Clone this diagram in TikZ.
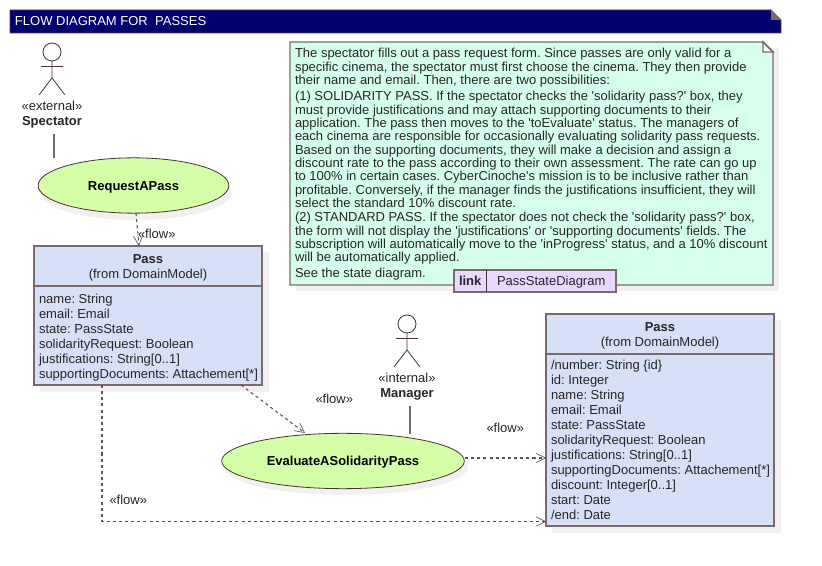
\documentclass[tikz,border=0pt]{standalone}
\usepackage{fontspec}
\setmainfont{Liberation Sans}
\newfontfamily\plainfam{Liberation Sans}
\usetikzlibrary{arrows.meta,calc,shapes.geometric}
\definecolor{edgec}{HTML}{7A6A6E}
\definecolor{linec}{HTML}{4A3236}
\definecolor{navy}{HTML}{000070}
\definecolor{notefill}{HTML}{D5FFEC}
\definecolor{classfill}{HTML}{D8E0F8}
\definecolor{ucfill}{HTML}{D4FFA8}
\definecolor{linkfill}{HTML}{E8D8FF}
\definecolor{shadowc}{HTML}{F1F1F1}
\newcommand{\fs}{\plainfam\fontsize{9.75pt}{9.75pt}\selectfont\frenchspacing}
\newcommand{\fa}{\plainfam\fontsize{9.75pt}{11.25pt}\selectfont\frenchspacing}
\newenvironment{tl}{\begin{tabular}[t]{@{}l@{}}}{\end{tabular}}
\tikzset{
  x=0.75pt,y=-0.75pt,
  txt/.style={inner sep=0pt,outer sep=0pt,font=\fs,text=black!85},
  para/.style={txt,anchor=base west},
  attrs/.style={inner sep=0pt,outer sep=0pt,font=\fa,text=black!85,anchor=base west},
  boxline/.style={draw=edgec,line width=1.1pt},
  thin line/.style={draw=linec,line width=0.6pt},
  flow/.style={draw=linec!85!white,line width=0.8pt,dash pattern=on 2.3pt off 2.3pt,-{Straight Barb[length=7pt,width=7pt,line width=0.5pt]}},
  usecase/.style={ellipse,draw=linec,line width=0.6pt,fill=ucfill,inner sep=0pt,text height=7pt,text depth=0pt},
  flowlabel/.style={txt},
}
\begin{document}
\begin{tikzpicture}
\useasboundingbox (0,0) rectangle (822,566);
\fill[white] (0,0) rectangle (822,566);

% title
\fill[navy,draw=edgec!60!navy,line width=0.6pt] (10,10) -- (771,10) -- (781,20) -- (781,33) -- (10,33) -- cycle;
\fill[edgec] (771,10) -- (771,20) -- (781,20) -- cycle;
\node[para,text=white] (title) at (15,26) {FLOW DIAGRAM FOR\ \ PASSES};

% note
\fill[shadowc] (296,48) rectangle (779,291);
\path[fill=notefill,boxline] (290,42) -- (763,42) -- (773,52) -- (773,285) -- (290,285) -- cycle;
\draw[boxline,fill=white] (763,42) -- (763,52) -- (773,52) -- cycle;
\node[para] (p1) at (295,58) {\begin{tl}The spectator fills out a pass request form. Since passes are only valid for a\\specific cinema, the spectator must first choose the cinema. They then provide\\their name and email. Then, there are two possibilities:\end{tl}};
\node[para] (p2) at (295,101) {\begin{tl}(1) SOLIDARITY PASS. If the spectator checks the 'solidarity pass?' box, they\\must provide justifications and may attach supporting documents to their\\application. The pass then moves to the 'toEvaluate' status. The managers of\\each cinema are responsible for occasionally evaluating solidarity pass requests.\\Based on the supporting documents, they will make a decision and assign a\\discount rate to the pass according to their own assessment. The rate can go up\\to 100\% in certain cases. CyberCinoche's mission is to be inclusive rather than\\profitable. Conversely, if the manager finds the justifications insufficient, they will\\select the standard 10\% discount rate.\end{tl}};
\node[para] (p3) at (295,222) {\begin{tl}(2) STANDARD PASS. If the spectator does not check the 'solidarity pass?' box,\\the form will not display the 'justifications' or 'supporting documents' fields. The\\subscription will automatically move to the 'inProgress' status, and a 10\% discount\\will be automatically applied.\end{tl}};
\node[para] (p4) at (295,278) {See the state diagram.};

% link
\path[fill=linkfill,boxline] (454,270) rectangle (616,292);
\draw[linec,line width=0.6pt] (486.5,270) -- (486.5,292);
\node[para,font=\fs\bfseries] (linkk) at (459,286) {link};
\node[para] (linkv) at (497,286) {PassStateDiagram};

% actors
\draw[thin line] (52,52) circle (9);
\draw[thin line] (52,61) -- (52,78) (41,66.5) -- (63,66.5) (39,95) -- (52,78) -- (65,95);
\node[txt,anchor=base] (spst) at (52,111) {«external»};
\node[txt,anchor=base,font=\fs\bfseries] (spectator) at (52,126) {Spectator};
\draw[thin line] (407,324) circle (9);
\draw[thin line] (407,333) -- (407,350) (396,338.5) -- (418,338.5) (394,367) -- (407,350) -- (420,367);
\node[txt,anchor=base] (mast) at (407,383) {«internal»};
\node[txt,anchor=base,font=\fs\bfseries] (manager) at (407,398) {Manager};

% use cases
\fill[shadowc] (136,192) ellipse (96 and 28);
\node[usecase,minimum width=143pt,minimum height=41.5pt,font=\fs\bfseries] (ua) at (133.5,185.5) {RequestAPass};
\fill[shadowc] (346,467) ellipse (122 and 28);
\node[usecase,minimum width=182pt,minimum height=41.5pt,font=\fs\bfseries] (ub) at (343,461) {EvaluateASolidarityPass};

% class 1
\fill[shadowc] (40,252) rectangle (269,392);
\path[fill=classfill,boxline] (34,246) rectangle (262,385);
\draw[boxline] (34,286) -- (262,286);
\node[txt,anchor=base,font=\fs\bfseries] (c1t) at (148,264) {Pass};
\node[txt,anchor=base] (c1f) at (148,279) {(from DomainModel)};
\node[attrs] (c1a) at (39,304) {\begin{tl}name: String\\email: Email\\state: PassState\\solidarityRequest: Boolean\\justifications: String[0..1]\\supportingDocuments: Attachement[*]\end{tl}};

% class 2
\fill[shadowc] (552,320) rectangle (781,533);
\path[fill=classfill,boxline] (546,314) rectangle (774,526);
\draw[boxline] (546,354) -- (774,354);
\node[txt,anchor=base,font=\fs\bfseries] (c2t) at (660,332) {Pass};
\node[txt,anchor=base] (c2f) at (660,347) {(from DomainModel)};
\node[attrs] (c2a) at (551,370) {\begin{tl}/number: String \{id\}\\id: Integer\\name: String\\email: Email\\state: PassState\\solidarityRequest: Boolean\\justifications: String[0..1]\\supportingDocuments: Attachement[*]\\discount: Integer[0..1]\\start: Date\\/end: Date\end{tl}};

% connectors
\coordinate (sa) at (54,134);
\coordinate (sb) at (54,158);
\draw[boxline,line width=0.8pt] (sa) -- (sb);
\coordinate (ma) at (410,406);
\coordinate (mb) at (410,434);
\draw[boxline,line width=0.8pt] (ma) -- (mb);
\coordinate (f1a) at (136,213);
\coordinate (f1b) at (139,246);
\draw[flow] (f1a) -- (f1b);
\coordinate (f2a) at (241,385);
\coordinate (f2b) at (305,433);
\draw[flow] (f2a) -- (f2b);
\coordinate (f3a) at (465,458);
\coordinate (f3b) at (546,458);
\draw[flow] (f3a) -- (f3b);
\coordinate (f4a) at (102,385);
\coordinate (f4b) at (546,521.5);
\draw[flow] (f4a) -- (102,521.5) -- (f4b);

\node[flowlabel,anchor=base west] (l1) at (138,239) {«flow»};
\node[flowlabel,anchor=base west] (l2) at (315.5,404) {«flow»};
\node[flowlabel,anchor=base west] (l3) at (486.5,433) {«flow»};
\node[flowlabel,anchor=base west] (l4) at (109.5,505) {«flow»};
\end{tikzpicture}
\end{document}
